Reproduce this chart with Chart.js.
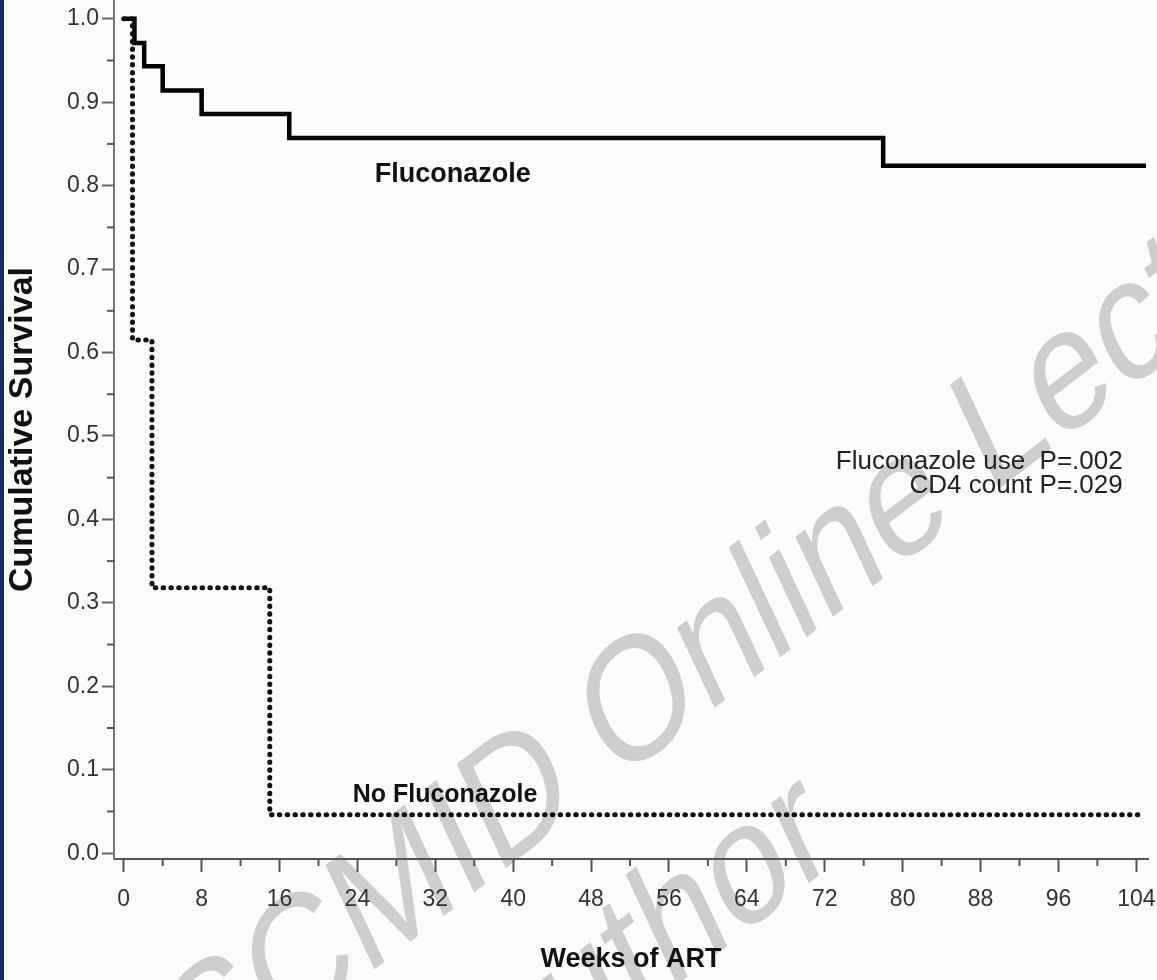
<!DOCTYPE html>
<html>
<head>
<meta charset="utf-8">
<script src="https://cdn.jsdelivr.net/npm/chart.js@4.4.1/dist/chart.umd.min.js"></script>
<style>
  html, body { margin: 0; padding: 0; background: #fbfbfb; }
  #wrap { position: relative; width: 1157px; height: 980px; overflow: hidden; }
  #edge { position: absolute; left: 0; top: 0; width: 4px; height: 980px; background: #1d2c68; }
  .wm {
    position: absolute; left: 122px; top: 1041px;
    transform-origin: 0 124px; transform: scaleY(1.28) rotate(-31deg);
    font-family: "Liberation Sans", Arial, sans-serif; font-size: 138px; line-height: 1.1;
    color: #cecece; white-space: nowrap;
  }
  .wm span { display: inline-block; position: relative; top: 14px; margin-left: 23px; }
  canvas { position: absolute; left: 0; top: 0; }
</style>
</head>
<body>
<div id="wrap">
  <div class="wm">ESCMID Online Lecture Library<br><span>© by author</span></div>
  <canvas id="km" width="1157" height="980"></canvas>
  <div id="edge"></div>
</div>
<script>
// Kaplan-Meier steps (weeks, cumulative survival)
const weeksFlu = [0, 1.1, 2.1, 4, 8, 17, 78, 105];
const survFlu = [1, 0.971, 0.943, 0.914, 0.886, 0.857, 0.824, 0.824];
const weeksNoFlu = [0, 0.9, 2.9, 15, 104.9];
const survNoFlu = [1, 0.615, 0.318, 0.046, 0.046];

const xTickValues = [0, 8, 16, 24, 32, 40, 48, 56, 64, 72, 80, 88, 96, 104];
const yTickValues = [0, 0.1, 0.2, 0.3, 0.4, 0.5, 0.6, 0.7, 0.8, 0.9, 1.0];

Chart.defaults.font.family = '"Liberation Sans", Arial, sans-serif';

function toPoints(xs, ys) {
  return xs.map((x, i) => ({ x: x, y: ys[i] }));
}

// minor ticks + text labels on the plot
const extras = {
  id: 'extras',
  afterDraw(chart) {
    const { ctx, scales: { x, y } } = chart;
    ctx.save();
    ctx.strokeStyle = '#555';
    ctx.lineWidth = 2;
    for (let i = 0; i < xTickValues.length - 1; i++) {
      const px = x.getPixelForValue((xTickValues[i] + xTickValues[i + 1]) / 2);
      ctx.beginPath();
      ctx.moveTo(px, x.top);
      ctx.lineTo(px, x.top + 7);
      ctx.stroke();
    }
    for (let i = 0; i < yTickValues.length - 1; i++) {
      const py = y.getPixelForValue((yTickValues[i] + yTickValues[i + 1]) / 2);
      ctx.beginPath();
      ctx.moveTo(y.right, py);
      ctx.lineTo(y.right - 7, py);
      ctx.stroke();
    }

    ctx.fillStyle = '#111';
    ctx.textAlign = 'center';
    ctx.textBaseline = 'middle';
    ctx.font = 'bold 27px "Liberation Sans", Arial, sans-serif';
    ctx.fillText('Fluconazole', x.getPixelForValue(33.8), y.getPixelForValue(0.813));
    ctx.font = 'bold 25px "Liberation Sans", Arial, sans-serif';
    ctx.fillText('No Fluconazole', x.getPixelForValue(33), y.getPixelForValue(0.07));

    ctx.fillStyle = '#222';
    ctx.textAlign = 'right';
    ctx.textBaseline = 'alphabetic';
    ctx.font = '26px "Liberation Sans", Arial, sans-serif';
    ctx.fillText('Fluconazole use  P=.002', x.getPixelForValue(102.6), y.getPixelForValue(0.461));
    ctx.fillText('CD4 count P=.029', x.getPixelForValue(102.6), y.getPixelForValue(0.432));
    ctx.restore();
  }
};

new Chart('km', {
  type: 'line',
  data: {
    datasets: [
      {
        label: 'No Fluconazole',
        data: toPoints(weeksNoFlu, survNoFlu),
        borderColor: '#111',
        borderWidth: 5,
        borderDash: [0.5, 7.3],
        borderCapStyle: 'round',
        stepped: true,
        pointRadius: 0,
        fill: false
      },
      {
        label: 'Fluconazole',
        data: toPoints(weeksFlu, survFlu),
        borderColor: '#000',
        borderWidth: 4.5,
        stepped: true,
        pointRadius: 0,
        fill: false
      }
    ]
  },
  options: {
    responsive: false,
    animation: false,
    devicePixelRatio: 1,
    layout: { padding: { left: 0, top: 0, right: 9, bottom: 0 } },
    plugins: { legend: { display: false }, tooltip: { enabled: false } },
    scales: {
      x: {
        type: 'linear',
        min: -1,
        max: 105.2,
        afterBuildTicks: (s) => { s.ticks = xTickValues.map(v => ({ value: v })); },
        afterFit: (s) => { s.height = 121; s.paddingLeft = 0; s.paddingRight = 0; },
        ticks: {
          autoSkip: false, maxRotation: 0, padding: 14,
          color: '#333', font: { size: 23 },
          callback: (v) => String(v)
        },
        grid: { drawOnChartArea: false, drawTicks: true, tickLength: 13, tickWidth: 2, tickColor: '#555' },
        border: { display: true, color: '#555', width: 2 },
        title: {
          display: true, text: 'Weeks of ART', color: '#111',
          font: { size: 27, weight: 'bold' }, padding: { top: 0, bottom: 4 }
        }
      },
      y: {
        type: 'linear',
        min: -0.007,
        max: 1.0225,
        afterBuildTicks: (s) => { s.ticks = yTickValues.map(v => ({ value: v })); },
        afterFit: (s) => { s.width = 114; s.paddingTop = 0; s.paddingBottom = 0; },
        ticks: {
          autoSkip: false, padding: 3,
          color: '#333', font: { size: 23 },
          callback: (v) => Number(v).toFixed(1)
        },
        grid: { drawOnChartArea: false, drawTicks: true, tickLength: 12, tickWidth: 2, tickColor: '#666' },
        border: { display: true, color: '#777', width: 2 },
        title: {
          display: true, text: 'Cumulative Survival', color: '#111',
          font: { size: 34, weight: 'bold' }, padding: { top: 2, bottom: 0 }
        }
      }
    }
  },
  plugins: [extras]
});
</script>
</body>
</html>
